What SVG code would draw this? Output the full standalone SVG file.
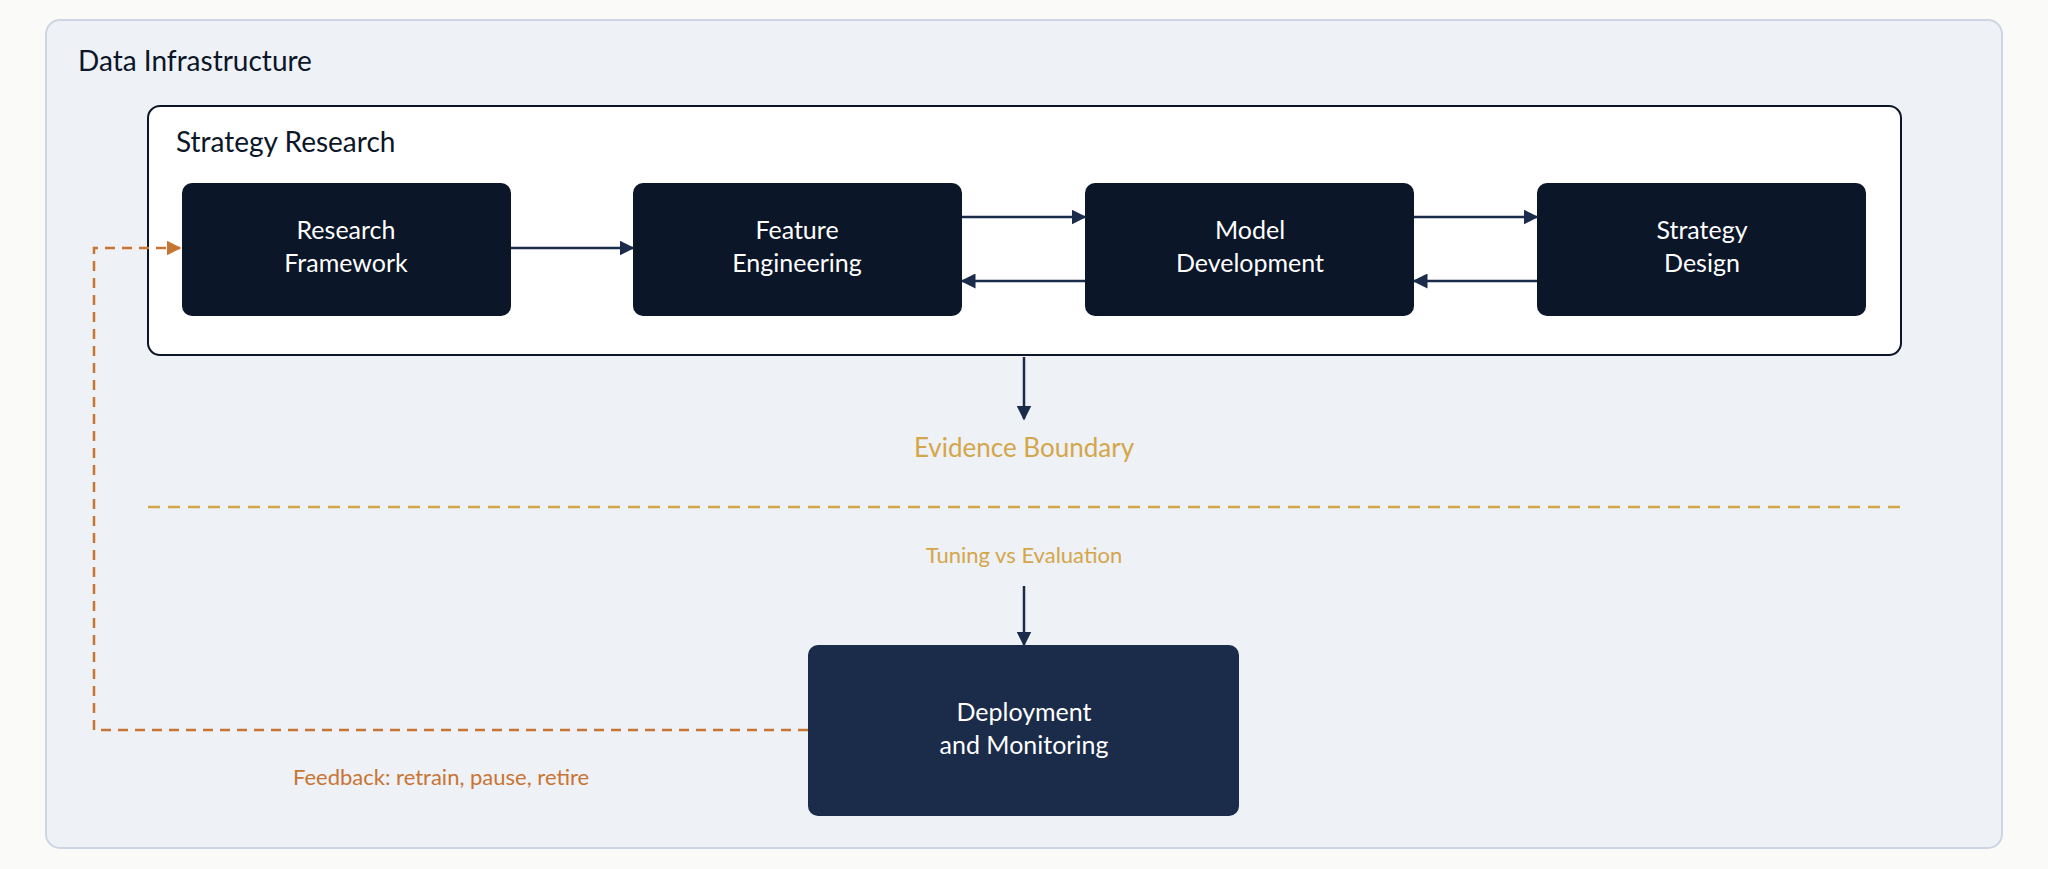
<svg xmlns="http://www.w3.org/2000/svg" width="2048" height="869" viewBox="0 0 2048 869">
<style>
text{font-family:Lato,"Noto Sans",sans-serif}
.n{fill:#0b1628}
.nt{fill:#fff;font-size:25px;text-anchor:middle}
.c{stroke:#1b2b4a;stroke-width:2.5;fill:none}
.fb{stroke:#c87533;stroke-width:2.5;fill:none;stroke-dasharray:10 7}
</style>
<defs>
<marker id="a" viewBox="0 0 10 10" refX="9" refY="5" markerWidth="6" markerHeight="6" orient="auto"><path d="M0,0L10,5L0,10z" fill="#1b2b4a"/></marker>
<marker id="o" viewBox="0 0 10 10" refX="9" refY="5" markerWidth="6" markerHeight="6" orient="auto"><path d="M0,0L10,5L0,10z" fill="#c87533"/></marker>
</defs>
<rect width="2048" height="869" fill="#fafaf8"/>
<g id="data-infrastructure">
<rect x="46" y="20" width="1956" height="828" rx="14" fill="#eef1f6" stroke="#cdd5e3" stroke-width="2"/>
<text x="78" y="71" font-size="28" fill="#0b1628">Data Infrastructure</text>
</g>
<g id="strategy-research">
<rect x="148" y="106" width="1753" height="249" rx="12" fill="#fff" stroke="#0b1628" stroke-width="2"/>
<text x="176" y="152" font-size="28" fill="#0b1628">Strategy Research</text>
</g>
<g id="research-framework"><rect class="n" x="182" y="183" width="329" height="133" rx="10"/><text class="nt" x="346" y="239">Research</text><text class="nt" x="346" y="272">Framework</text></g>
<g id="feature-engineering"><rect class="n" x="633" y="183" width="329" height="133" rx="10"/><text class="nt" x="797" y="239">Feature</text><text class="nt" x="797" y="272">Engineering</text></g>
<g id="model-development"><rect class="n" x="1085" y="183" width="329" height="133" rx="10"/><text class="nt" x="1250" y="239">Model</text><text class="nt" x="1250" y="272">Development</text></g>
<g id="strategy-design"><rect class="n" x="1537" y="183" width="329" height="133" rx="10"/><text class="nt" x="1702" y="239">Strategy</text><text class="nt" x="1702" y="272">Design</text></g>
<g id="deployment"><rect x="808" y="645" width="431" height="171" rx="10" fill="#1b2b4a"/><text class="nt" x="1024" y="721">Deployment</text><text class="nt" x="1024" y="754">and Monitoring</text></g>
<g id="evidence-boundary">
<text x="1024" y="457" font-size="26" fill="#d4a64a" text-anchor="middle">Evidence Boundary</text>
<line x1="148" y1="507" x2="1900" y2="507" stroke="#d4a64a" stroke-width="2.5" stroke-dasharray="12 8"/>
<text x="1024" y="563" font-size="22" fill="#d4a64a" text-anchor="middle">Tuning vs Evaluation</text>
</g>
<g id="connectors">
<line class="c" x1="511" y1="248" x2="633" y2="248" marker-end="url(#a)"/>
<line class="c" x1="962" y1="217" x2="1085" y2="217" marker-end="url(#a)"/>
<line class="c" x1="1085" y1="281" x2="962" y2="281" marker-end="url(#a)"/>
<line class="c" x1="1414" y1="217" x2="1537" y2="217" marker-end="url(#a)"/>
<line class="c" x1="1537" y1="281" x2="1414" y2="281" marker-end="url(#a)"/>
<line class="c" x1="1024" y1="357" x2="1024" y2="419" marker-end="url(#a)"/>
<line class="c" x1="1024" y1="586" x2="1024" y2="645" marker-end="url(#a)"/>
<path class="fb" d="M808,730H94V248H180" marker-end="url(#o)"/>
<text x="293" y="785" font-size="22" fill="#c87533">Feedback: retrain, pause, retire</text>
</g>
</svg>
